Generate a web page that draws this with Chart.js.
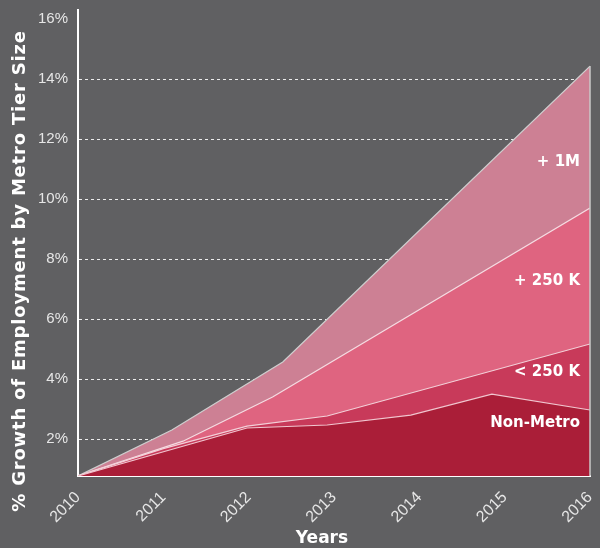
<!DOCTYPE html>
<html>
<head>
<meta charset="utf-8">
<script src="https://cdn.jsdelivr.net/npm/chart.js@4"></script>
<style>
  html, body { margin: 0; padding: 0; background: #606062; }
  #wrap { width: 600px; height: 548px; }
</style>
</head>
<body>
<div id="wrap"><canvas id="chart"></canvas></div>
<script>
// valores (% de crecimiento del empleo)
const yTicks = [2, 4, 6, 8, 10, 12, 14, 16];

const nonMetroYears = [2010, 2011.98, 2012.92, 2013.9, 2014.85, 2016];
const nonMetro = [0.77, 2.37, 2.47, 2.8, 3.5, 2.97];

const under250kYears = [2010, 2011, 2011.98, 2012.92, 2016];
const under250k = [0.77, 1.68, 2.43, 2.77, 5.17];

const over250kYears = [2010, 2011.23, 2012.28, 2016];
const over250k = [0.77, 1.93, 3.4, 9.7];

const over1mYears = [2010, 2011.1, 2012.4, 2016];
const over1m = [0.77, 2.3, 4.57, 14.43];

const seriesLabels = ['Non-Metro', '< 250 K', '+ 250 K', '+ 1M'];
const labelLevels = [2.53, 4.23, 7.27, 11.23];

const yTitle = '% Growth of Employment by Metro Tier Size';
const xTitle = 'Years';

const toPoints = (xs, ys) => xs.map((x, i) => ({ x: x, y: ys[i] }));

// etiquetas dentro de las areas, titulos y borde derecho
const areaLabels = {
    id: 'areaLabels',
    afterDatasetsDraw(chart) {
        const { ctx, scales } = chart;
        const x = scales.x.getPixelForValue(2016);
        ctx.save();
        ctx.strokeStyle = '#c9c9c9';
        ctx.lineWidth = 1.5;
        ctx.beginPath();
        ctx.moveTo(x, scales.y.getPixelForValue(over1m[over1m.length - 1]));
        ctx.lineTo(x, scales.y.bottom);
        ctx.stroke();
        ctx.restore();
    },
    afterDraw(chart) {
        const { ctx, scales } = chart;
        ctx.save();
        ctx.fillStyle = '#ffffff';
        ctx.font = 'bold 15px "DejaVu Sans", sans-serif';
        ctx.textAlign = 'right';
        ctx.textBaseline = 'middle';
        seriesLabels.forEach((txt, i) => {
            ctx.fillText(txt, scales.x.right - 10, scales.y.getPixelForValue(labelLevels[i]));
        });

        ctx.textAlign = 'center';
        ctx.font = 'bold 17px "DejaVu Sans", sans-serif';
        ctx.fillText(xTitle, 322, 539);

        ctx.translate(20, 271);
        ctx.rotate(-Math.PI / 2);
        ctx.font = 'bold 18px "DejaVu Sans", sans-serif';
        ctx.letterSpacing = '0.8px';
        ctx.fillText(yTitle, 0, 0);
        ctx.restore();
    }
};

Chart.defaults.font.family = '"Liberation Sans", Arial, sans-serif';

new Chart(document.getElementById('chart'), {
    type: 'line',
    data: {
        datasets: [{
            label: 'Non-Metro',
            data: toPoints(nonMetroYears, nonMetro),
            backgroundColor: '#aa1e38',
            borderColor: '#f1c6cf',
            fill: 'start',
        }, {
            label: '< 250 K',
            data: toPoints(under250kYears, under250k),
            backgroundColor: '#c83a5a',
            borderColor: '#f3d0d8',
            fill: 'start',
        }, {
            label: '+ 250 K',
            data: toPoints(over250kYears, over250k),
            backgroundColor: '#df6480',
            borderColor: '#f5dce2',
            fill: 'start',
        }, {
            label: '+ 1M',
            data: toPoints(over1mYears, over1m),
            backgroundColor: '#cd8094',
            borderColor: '#cfcfcf',
            fill: 'start',
        }],
    },
    options: {
        responsive: true,
        maintainAspectRatio: false,
        animation: false,
        layout: { padding: { top: 10, right: 10, left: 0, bottom: 0 } },
        elements: {
            point: { radius: 0 },
            line: { borderWidth: 1.2, tension: 0 },
        },
        plugins: {
            legend: { display: false },
            tooltip: { enabled: false },
        },
        scales: {
            x: {
                type: 'linear',
                min: 2010,
                max: 2016,
                afterFit: s => {
                    s.height = 72;
                    s.paddingLeft = 0;
                    s.paddingRight = 0;
                },
                grid: { display: false },
                border: { color: '#ffffff', width: 2 },
                ticks: {
                    stepSize: 1,
                    color: '#e6e6e6',
                    font: { size: 16 },
                    minRotation: 45,
                    maxRotation: 45,
                    padding: 4,
                    callback: v => String(v),
                },
            },
            y: {
                min: 0.77,
                max: 16.3,
                z: 1,
                afterFit: s => {
                    s.width = 78;
                    s.paddingTop = 0;
                    s.paddingBottom = 0;
                },
                afterBuildTicks: s => { s.ticks = yTicks.map(v => ({ value: v })); },
                grid: {
                    drawTicks: false,
                    color: c => (c.tick && c.tick.value === 16) ? 'rgba(0,0,0,0)' : '#ececec',
                    lineWidth: 1,
                },
                border: { color: '#ffffff', width: 2, dash: [3, 3] },
                ticks: {
                    color: '#e6e6e6',
                    font: { size: 15 },
                    padding: 10,
                    callback: v => v + '%',
                },
            },
        },
    },
    plugins: [areaLabels],
});
</script>
</body>
</html>
